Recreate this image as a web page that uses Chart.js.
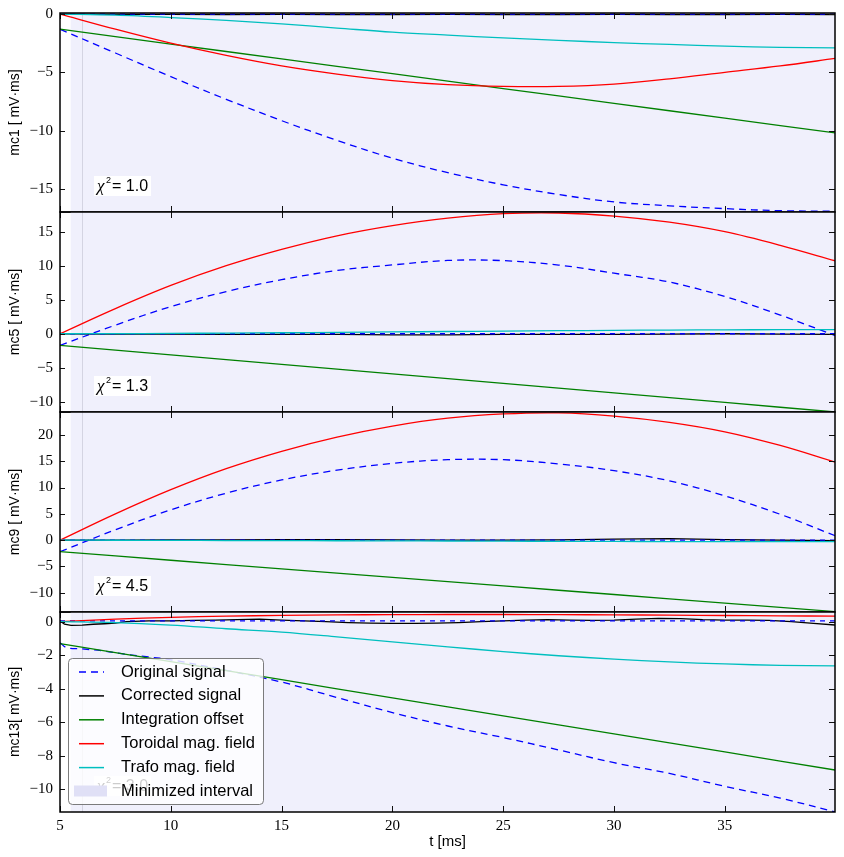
<!DOCTYPE html>
<html>
<head>
<meta charset="utf-8">
<script src="https://cdn.jsdelivr.net/npm/chart.js@4.4.0/dist/chart.umd.min.js"></script>
<style>
  html, body { margin: 0; padding: 0; background: #fff; }
  #wrap { position: relative; width: 844px; height: 857px; }
  #wrap canvas { position: absolute; left: 0; }
</style>
</head>
<body>
<div id="wrap">
  <canvas id="mc1" width="844" height="219" style="top:3px"></canvas>
  <canvas id="mc5" width="844" height="220" style="top:202px"></canvas>
  <canvas id="mc9" width="844" height="220" style="top:402px"></canvas>
  <canvas id="mc13" width="844" height="255" style="top:602px"></canvas>
</div>
<script>
// time grid (ms)
const tGrid = [5, 7.5, 10, 12.5, 15, 17.5, 20, 22.5, 25, 27.5, 30, 32.5, 35, 37.5, 40];
const xTicks = [5, 10, 15, 20, 25, 30, 35];
const xMin = 5, xMax = 39.97;
const intervalStart = 5.48, intervalMark = 6.0;

// mc1
const mc1Original  = [-1.3, -3.34, -5.37, -7.31, -9.14, -10.83, -12.36, -13.6, -14.64, -15.47, -16.11, -16.44, -16.68, -16.86, -16.9];
const mc1Corrected = [0, -0.03, -0.02, -0.04, -0.03, -0.05, -0.04, -0.03, -0.05, -0.04, -0.03, -0.05, -0.04, -0.03, -0.04];
const mc1Baseline  = [0, 0, 0, 0, 0, 0, 0, 0, 0, 0, 0, 0, 0, 0, 0];
const mc1Offset    = [-1.3, -1.94, -2.57, -3.21, -3.84, -4.48, -5.11, -5.75, -6.39, -7.02, -7.66, -8.29, -8.93, -9.56, -10.2];
const mc1Toroidal  = [0, -1.3, -2.5, -3.55, -4.45, -5.15, -5.7, -6.05, -6.2, -6.2, -6.0, -5.55, -5.0, -4.45, -3.8];
const mc1Trafo     = [0, -0.1, -0.3, -0.55, -0.85, -1.2, -1.55, -1.8, -2.05, -2.25, -2.45, -2.6, -2.75, -2.85, -2.9];
const mc1Ticks = [-15, -10, -5, 0];

// mc5
const mc5Original  = [-1.7, 1.27, 4.0, 6.2, 7.95, 9.3, 10.12, 10.78, 10.75, 10.1, 8.9, 7.6, 5.48, 2.75, -0.3];
const mc5Corrected = [0, -0.05, -0.05, -0.1, -0.1, -0.1, -0.15, -0.15, -0.1, -0.1, -0.1, -0.05, 0, -0.05, -0.1];
const mc5Baseline  = [0, 0, 0, 0, 0, 0, 0, 0, 0, 0, 0, 0, 0, 0, 0];
const mc5Offset    = [-1.7, -2.4, -3.1, -3.8, -4.5, -5.2, -5.9, -6.6, -7.3, -8.0, -8.7, -9.4, -10.1, -10.8, -11.5];
const mc5Toroidal  = [0, 3.7, 7.1, 10.0, 12.4, 14.4, 15.9, 17.0, 17.65, 17.75, 17.3, 16.4, 15.0, 13.0, 10.7];
const mc5Trafo     = [0, 0.02, 0.05, 0.1, 0.15, 0.2, 0.27, 0.33, 0.4, 0.45, 0.5, 0.55, 0.58, 0.6, 0.6];
const mc5Ticks = [-10, -5, 0, 5, 10, 15];

// mc9
const mc9Original  = [-2.2, 1.97, 5.77, 8.93, 11.44, 13.31, 14.6, 15.3, 15.3, 14.5, 13.21, 11.27, 8.43, 4.91, 0.8];
const mc9Corrected = [0, 0, 0.05, 0.05, 0.1, 0.1, 0.05, 0, 0, 0.05, 0.2, 0.3, 0.1, 0, -0.1];
const mc9Baseline  = [0, 0, 0, 0, 0, 0, 0, 0, 0, 0, 0, 0, 0, 0, 0];
const mc9Offset    = [-2.2, -3.01, -3.83, -4.64, -5.46, -6.27, -7.09, -7.9, -8.71, -9.53, -10.34, -11.16, -11.97, -12.79, -13.6];
const mc9Toroidal  = [0, 5.0, 9.6, 13.6, 16.9, 19.6, 21.7, 23.2, 24.0, 24.2, 23.6, 22.4, 20.6, 18.0, 14.8];
const mc9Trafo     = [0, -0.02, -0.05, -0.08, -0.1, -0.12, -0.15, -0.17, -0.2, -0.22, -0.25, -0.27, -0.3, -0.3, -0.3];
const mc9Ticks = [-10, -5, 0, 5, 10, 15, 20];

// mc13
const tOrig13      = [5, 5.3, 6, 7, 8, 9, 10, 12.5, 15, 17.5, 20, 22.5, 25, 27.5, 30, 32.5, 35, 37.5, 40];
const mc13Original = [-1.25, -1.55, -1.62, -1.75, -1.95, -2.1, -2.27, -2.9, -3.6, -4.52, -5.42, -6.22, -6.91, -7.65, -8.41, -9.05, -9.82, -10.52, -11.35];
const tCorr13      = [5, 5.2, 5.5, 6, 6.5, 7, 7.5, 8, 9, 10, 11, 12, 13, 14, 15, 16, 17, 18, 19, 20, 21, 22, 23, 24, 25, 26, 27, 28, 29, 30, 31, 32, 33, 34, 35, 36, 37, 38, 39, 40];
const mc13Corrected = [0.05, -0.15, -0.22, -0.2, -0.15, -0.12, -0.08, 0.0, 0.05, 0.05, 0.08, 0.1, 0.12, 0.15, 0.1, 0.05, 0.0, -0.05, -0.08, -0.1, -0.1, -0.08, -0.05, 0.0, 0.05, 0.1, 0.12, 0.1, 0.08, 0.1, 0.15, 0.2, 0.18, 0.12, 0.1, 0.1, 0.08, 0.0, -0.1, -0.2];
const mc13Baseline = [0.05, 0.05, 0.05, 0.05, 0.05, 0.05, 0.05, 0.05, 0.05, 0.05, 0.05, 0.05, 0.05, 0.05, 0.05];
const mc13Offset   = [-1.3, -1.84, -2.38, -2.92, -3.46, -4.0, -4.54, -5.08, -5.61, -6.15, -6.69, -7.23, -7.77, -8.31, -8.85];
const mc13Toroidal = [0, 0.15, 0.26, 0.33, 0.38, 0.41, 0.42, 0.43, 0.43, 0.42, 0.41, 0.39, 0.37, 0.35, 0.33];
const mc13Trafo    = [0, -0.05, -0.2, -0.42, -0.62, -0.9, -1.2, -1.5, -1.78, -2.03, -2.23, -2.4, -2.52, -2.6, -2.63];
const mc13Ticks = [-10, -8, -6, -4, -2, 0];

const chi2Values = ['1.0', '1.3', '4.5', '3.0'];
const legendLabels = ['Original signal', 'Corrected signal', 'Integration offset', 'Toroidal mag. field', 'Trafo mag. field', 'Minimized interval'];

const COLORS = {
    original: '#0000ff',
    corrected: '#000000',
    offset: '#008000',
    toroidal: '#ff0000',
    trafo: '#00bfbf',
    band: '#f0f0fc',
    bandPatch: '#e0e0f6'
};
const SERIF = '"Liberation Serif", "Times New Roman", serif';
const SANS = '"Liberation Sans", Arial, sans-serif';

function pts(ts, ys) {
    return ys.map((y, i) => ({ x: ts[i], y }));
}

function line(data, color, dash, smooth) {
    return {
        data,
        borderColor: color,
        borderWidth: 1.3,
        borderDash: dash || [],
        pointRadius: 0,
        fill: false,
        tension: smooth ? 0.35 : 0
    };
}

function drawChi(ctx, a, value) {
    const cy = a.bottom - 26;
    ctx.fillStyle = '#fff';
    ctx.fillRect(a.left + 34, cy - 10, 57, 20);
    ctx.fillStyle = '#000';
    ctx.textBaseline = 'middle';
    ctx.textAlign = 'left';
    ctx.font = 'italic 17px ' + SERIF;
    ctx.fillText('\u03c7', a.left + 37, cy + 1);
    ctx.font = '9px ' + SANS;
    ctx.fillText('2', a.left + 46, cy - 5);
    ctx.font = '16px ' + SANS;
    ctx.fillText('= ' + value, a.left + 52, cy + 1);
}

function drawLegend(ctx, a) {
    const bx = a.left + 8, by = a.top + 46, bw = 195, bh = 146;
    ctx.save();
    ctx.beginPath();
    if (ctx.roundRect) ctx.roundRect(bx + 0.5, by + 0.5, bw, bh, 4);
    else ctx.rect(bx + 0.5, by + 0.5, bw, bh);
    ctx.fillStyle = 'rgba(255,255,255,0.8)';
    ctx.fill();
    ctx.strokeStyle = 'rgba(110,110,110,0.9)';
    ctx.lineWidth = 1;
    ctx.stroke();

    const handles = [
        [COLORS.original, [7, 5]],
        [COLORS.corrected, []],
        [COLORS.offset, []],
        [COLORS.toroidal, []],
        [COLORS.trafo, []]
    ];
    ctx.font = '16.5px ' + SANS;
    ctx.textBaseline = 'middle';
    ctx.textAlign = 'left';
    legendLabels.forEach((label, i) => {
        const cy = by + 14 + i * 23.9;
        if (i < handles.length) {
            ctx.strokeStyle = handles[i][0];
            ctx.setLineDash(handles[i][1]);
            ctx.lineWidth = 1.5;
            ctx.beginPath();
            ctx.moveTo(bx + 11, cy);
            ctx.lineTo(bx + 36, cy);
            ctx.stroke();
        } else {
            ctx.fillStyle = COLORS.bandPatch;
            ctx.fillRect(bx + 6, cy - 6, 33, 11);
        }
        ctx.setLineDash([]);
        ctx.fillStyle = '#000';
        ctx.fillText(label, bx + 53, cy);
    });
    ctx.restore();
}

const decor = {
    id: 'decor',
    beforeDatasetsDraw(chart) {
        const { ctx, chartArea: a, scales: { x } } = chart;
        ctx.save();
        const x0 = x.getPixelForValue(intervalStart);
        ctx.fillStyle = COLORS.band;
        ctx.fillRect(x0, a.top, a.right - x0, a.bottom - a.top);
        const xm = Math.round(x.getPixelForValue(intervalMark)) + 0.5;
        ctx.strokeStyle = '#d4d4e2';
        ctx.lineWidth = 1;
        ctx.beginPath();
        ctx.moveTo(xm, a.top);
        ctx.lineTo(xm, a.bottom);
        ctx.stroke();
        ctx.restore();
    },
    afterDraw(chart, args, opts) {
        const { ctx, chartArea: a, scales: { x, y } } = chart;
        ctx.save();
        // inward tick marks
        ctx.strokeStyle = '#111';
        ctx.lineWidth = 1;
        ctx.beginPath();
        xTicks.forEach(v => {
            const px = Math.round(x.getPixelForValue(v)) + 0.5;
            ctx.moveTo(px, a.top); ctx.lineTo(px, a.top + 6);
            ctx.moveTo(px, a.bottom); ctx.lineTo(px, a.bottom - 6);
        });
        opts.yTicks.forEach(v => {
            const py = Math.round(y.getPixelForValue(v)) + 0.5;
            ctx.moveTo(a.left, py); ctx.lineTo(a.left + 5, py);
            ctx.moveTo(a.right, py); ctx.lineTo(a.right - 6, py);
        });
        ctx.stroke();
        // frame
        ctx.lineWidth = 1.5;
        ctx.strokeStyle = '#000';
        ctx.strokeRect(a.left, a.top, a.right - a.left, a.bottom - a.top);
        drawChi(ctx, a, opts.chi);
        if (opts.legend) drawLegend(ctx, a);
        ctx.restore();
    }
};

function makeChart(id, p) {
    const bottom = !!p.bottom;
    new Chart(document.getElementById(id), {
        type: 'line',
        data: {
            datasets: [
                line(pts(tGrid, p.trafo), COLORS.trafo, null, true),
                line(pts(tGrid, p.toroidal), COLORS.toroidal, null, true),
                line(pts(tGrid, p.offset), COLORS.offset, null, false),
                line(pts(tGrid, p.baseline), COLORS.original, [5, 5], false),
                line(pts(p.tCorr || tGrid, p.corrected), COLORS.corrected, null, false),
                line(pts(p.tOrig || tGrid, p.original), COLORS.original, [7, 5], true)
            ]
        },
        options: {
            responsive: false,
            animation: false,
            events: [],
            layout: { padding: { top: 10, bottom: bottom ? 0 : 10, left: 0, right: 9 } },
            plugins: {
                legend: { display: false },
                tooltip: { enabled: false },
                decor: { yTicks: p.ticks, chi: p.chi, legend: !!p.legend }
            },
            scales: {
                x: {
                    type: 'linear',
                    min: xMin,
                    max: xMax,
                    display: bottom,
                    grid: { display: false, drawTicks: false },
                    border: { display: false },
                    afterBuildTicks: s => { s.ticks = xTicks.map(v => ({ value: v })); },
                    afterFit: s => {
                        s.height = bottom ? 45 : 0;
                        s.paddingLeft = 0; s.paddingRight = 0;
                    },
                    ticks: { autoSkip: false, maxRotation: 0, padding: 5, color: '#000', font: { family: SERIF, size: 15 } },
                    title: { display: true, text: 't [ms]', color: '#000', font: { family: SANS, size: 15 }, padding: { top: 2, bottom: 6.6 } }
                },
                y: {
                    min: p.min,
                    max: p.max,
                    grid: { display: false, drawTicks: false },
                    border: { display: false },
                    afterFit: s => {
                        s.width = 60;
                        s.paddingTop = 0; s.paddingBottom = 0;
                    },
                    afterBuildTicks: s => { s.ticks = p.ticks.map(v => ({ value: v })); },
                    ticks: {
                        padding: 7,
                        color: '#000',
                        font: { family: SERIF, size: 15 },
                        callback: v => String(v).replace('-', '\u2212')
                    },
                    title: { display: true, text: p.label, color: '#000', font: { family: SANS, size: 14 }, padding: { top: 6.6, bottom: 0 } }
                }
            }
        },
        plugins: [decor]
    });
}

makeChart('mc1', {
    original: mc1Original, corrected: mc1Corrected, baseline: mc1Baseline,
    offset: mc1Offset, toroidal: mc1Toroidal, trafo: mc1Trafo,
    ticks: mc1Ticks, min: -16.97, max: 0.09, label: 'mc1 [ mV\u00b7ms]', chi: chi2Values[0]
});
makeChart('mc5', {
    original: mc5Original, corrected: mc5Corrected, baseline: mc5Baseline,
    offset: mc5Offset, toroidal: mc5Toroidal, trafo: mc5Trafo,
    ticks: mc5Ticks, min: -11.5, max: 17.9, label: 'mc5 [ mV\u00b7ms]', chi: chi2Values[1]
});
makeChart('mc9', {
    original: mc9Original, corrected: mc9Corrected, baseline: mc9Baseline,
    offset: mc9Offset, toroidal: mc9Toroidal, trafo: mc9Trafo,
    ticks: mc9Ticks, min: -13.67, max: 24.37, label: 'mc9 [ mV\u00b7ms]', chi: chi2Values[2]
});
makeChart('mc13', {
    original: mc13Original, tOrig: tOrig13, corrected: mc13Corrected, tCorr: tCorr13, baseline: mc13Baseline,
    offset: mc13Offset, toroidal: mc13Toroidal, trafo: mc13Trafo,
    ticks: mc13Ticks, min: -11.35, max: 0.58, label: 'mc13[ mV\u00b7ms]', chi: chi2Values[3],
    bottom: true, legend: true
});
</script>
</body>
</html>
